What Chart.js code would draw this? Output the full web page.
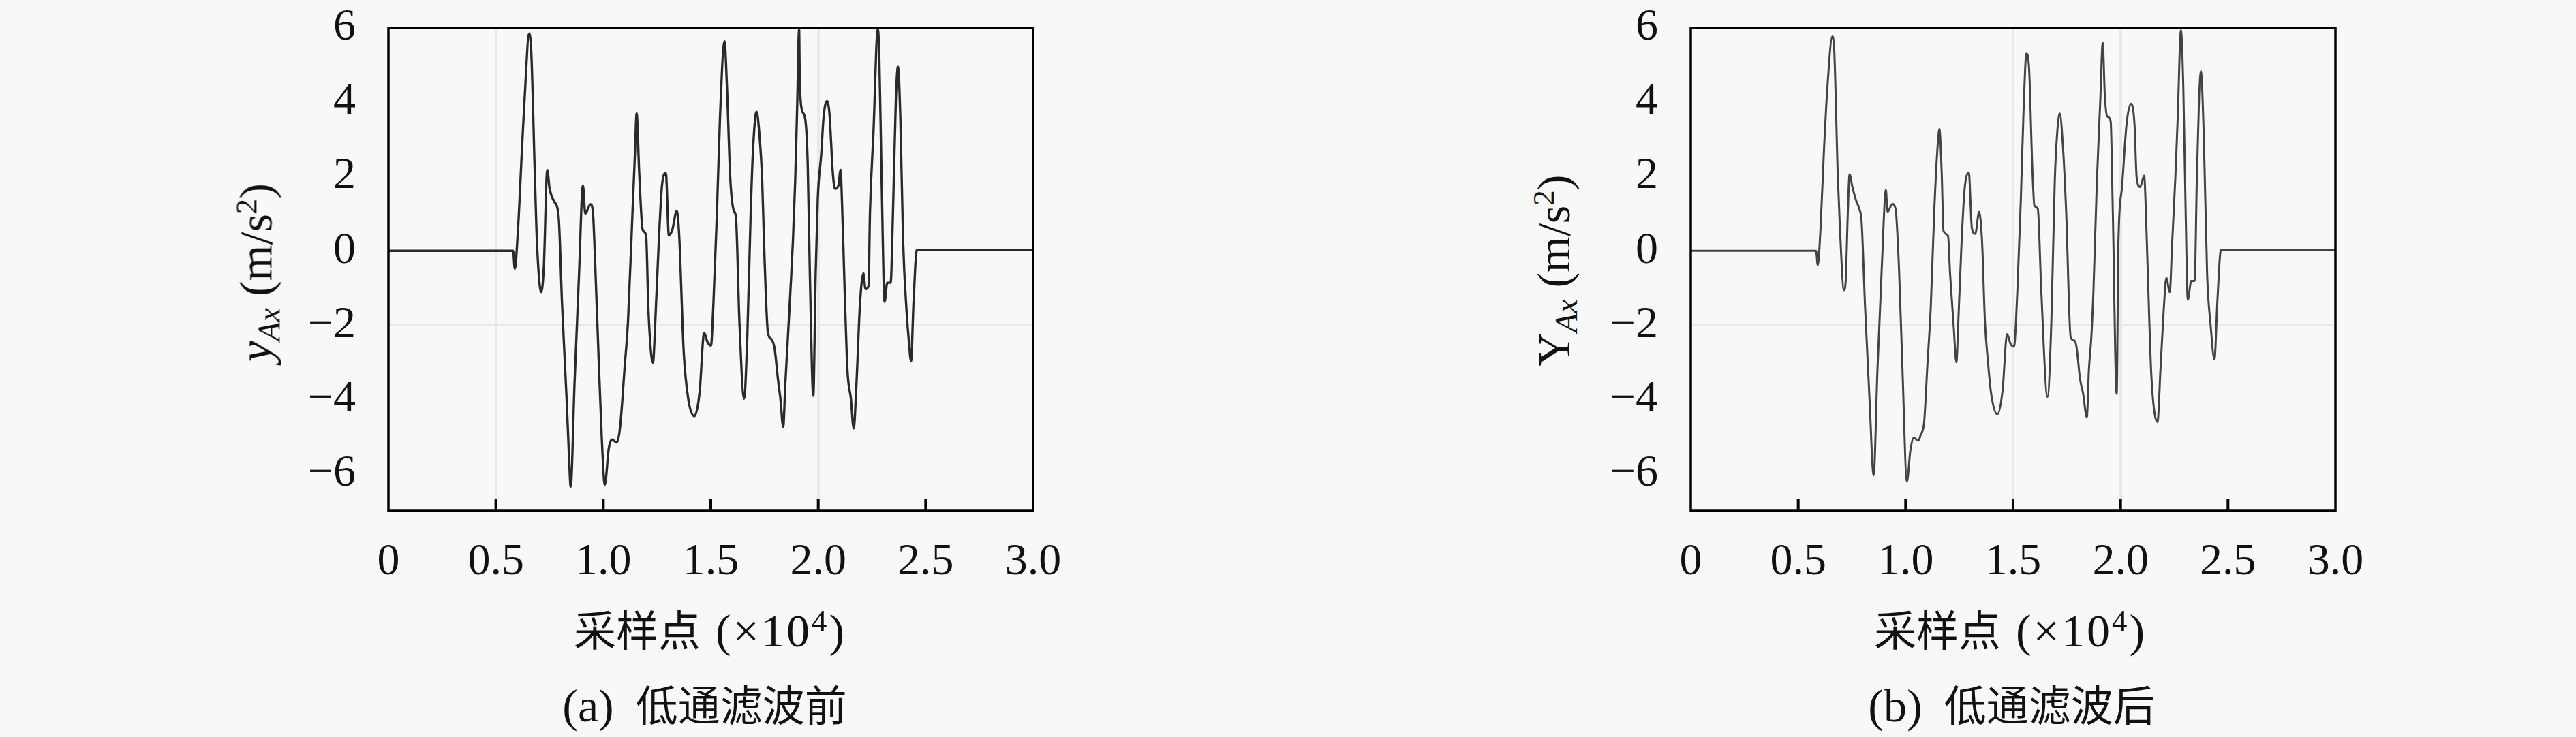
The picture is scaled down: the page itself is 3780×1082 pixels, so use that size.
<!DOCTYPE html>
<html>
<head>
<meta charset="utf-8">
<script src="https://cdn.jsdelivr.net/npm/chart.js@4/dist/chart.umd.min.js"></script>
<style>
html,body{margin:0;padding:0;background:#f8f8f8;}
body{width:3780px;height:1082px;position:relative;overflow:hidden;}
.cv{position:absolute;top:0;}
.t{position:absolute;white-space:nowrap;color:#111;font-family:"Liberation Serif","DejaVu Serif",serif;font-size:68px;line-height:1;transform:translate(-50%,-50%);}
.cjk{font-family:"Noto Sans CJK SC",sans-serif;font-size:62px;}
.cap .cjk{margin-left:32px;}
.xt .lat{letter-spacing:3px;margin-left:22px;}
.yt{transform:translate(-50%,-50%) rotate(-90deg);}
.t sub{font-size:0.68em;vertical-align:-0.25em;}
.t sup{font-size:0.66em;vertical-align:0.5em;}
</style>
</head>
<body>
<div class="cv" style="left:420px;"><canvas id="ca" width="1150" height="900"></canvas></div>
<div class="cv" style="left:2331px;"><canvas id="cb" width="1150" height="900"></canvas></div>

<div class="t yt" style="left:379px;top:400px;"><i>y</i><sub><i>Ax</i></sub> (m/s<sup>2</sup>)</div>
<div class="t xt" style="left:1042px;top:925px;"><span class="cjk">采样点</span><span class="lat">(×10<sup>4</sup>)</span></div>
<div class="t cap" style="left:1034px;top:1035px;">(a)<span class="cjk">低通滤波前</span></div>

<div class="t yt" style="left:2283px;top:397px;">Y<sub><i>Ax</i></sub> (m/s<sup>2</sup>)</div>
<div class="t xt" style="left:2950px;top:925px;"><span class="cjk">采样点</span><span class="lat">(×10<sup>4</sup>)</span></div>
<div class="t cap" style="left:2952px;top:1035px;">(b)<span class="cjk">低通滤波后</span></div>

<script>
// x tick values (×10^4 samples) and labels
const xTickValues = [0, 0.5, 1.0, 1.5, 2.0, 2.5, 3.0];
const xTickLabels = ['0', '0.5', '1.0', '1.5', '2.0', '2.5', '3.0'];
const yTickValues = [-6, -4, -2, 0, 2, 4, 6];
const yTickLabels = ['\u22126', '\u22124', '\u22122', '0', '2', '4', '6'];

// (a) before low-pass filtering
const sampleA = [
  0, 0.580, 0.588, 0.602, 0.623, 0.633, 0.655, 0.665, 0.681, 0.691,
  0.711, 0.723, 0.739, 0.750, 0.771, 0.792, 0.808, 0.829, 0.840, 0.848,
  0.866, 0.887, 0.905, 0.916, 0.940, 0.951, 0.961, 0.977, 0.993, 1.007,
  1.025, 1.041, 1.062, 1.078, 1.099, 1.115, 1.136, 1.147, 1.155, 1.167,
  1.183, 1.199, 1.210, 1.231, 1.242, 1.258, 1.273, 1.291, 1.305, 1.321,
  1.342, 1.353, 1.374, 1.395, 1.424, 1.448, 1.469, 1.485, 1.501, 1.512,
  1.528, 1.543, 1.564, 1.575, 1.591, 1.607, 1.617, 1.633, 1.655, 1.670,
  1.686, 1.697, 1.713, 1.723, 1.739, 1.750, 1.766, 1.782, 1.797, 1.813,
  1.824, 1.837, 1.847, 1.856, 1.871, 1.882, 1.893, 1.903, 1.911, 1.914,
  1.925, 1.940, 1.951, 1.961, 1.977, 1.988, 1.998, 2.014, 2.025, 2.041,
  2.052, 2.068, 2.078, 2.094, 2.104, 2.110, 2.125, 2.136, 2.152, 2.165,
  2.178, 2.194, 2.210, 2.220, 2.234, 2.241, 2.257, 2.277, 2.284, 2.295,
  2.309, 2.321, 2.337, 2.348, 2.361, 2.371, 2.382, 2.395, 2.411, 2.422,
  2.432, 2.443, 2.459, 3.000
];
const accelA = [
  0, 0, -0.48, 0.49, 2.94, 4.03, 5.85, 5.30, 2.09, 0.24,
  -1.11, -0.44, 2.18, 1.67, 1.33, 0.91, -1.45, -3.98, -5.50, -6.35,
  -3.56, -0.61, 1.76, 1.00, 1.25, 1.08, -0.19, -2.72, -5.08, -6.30,
  -5.33, -5.08, -5.16, -4.74, -3.14, -1.87, 1.08, 2.60, 3.70, 2.09,
  0.57, 0.41, -1.62, -3.01, -1.87, 0.24, 1.76, 2.09, 0.41, 0.57,
  1.08, 0.41, -2.72, -3.98, -4.45, -3.81, -2.21, -2.46, -2.55, -1.45,
  0.91, 3.61, 5.64, 4.46, 1.92, 1.08, 0.91, -1.87, -3.98, -2.30,
  1.08, 2.77, 3.74, 3.36, 1.92, -0.19, -2.21, -2.38, -2.63, -3.48,
  -3.98, -4.74, -3.56, -2.63, -1.03, 0.24, 1.92, 4.12, 5.97, 4.62,
  3.78, 3.53, 2.35, -0.61, -3.90, -0.61, 1.42, 2.60, 3.61, 4.03,
  3.70, 2.09, 1.67, 1.76, 2.18, 1.42, -1.45, -3.22, -3.98, -4.78,
  -3.56, -1.45, -0.61, -1.03, -0.95, 1.08, 3.19, 5.97, 5.30, 1.92,
  -1.37, -0.86, -0.86, 1.08, 4.03, 4.96, 3.61, 0.24, -1.62, -2.46,
  -2.97, -1.45, 0.03, 0.03
];

// (b) after low-pass filtering
const sampleB = [
  0, 0.583, 0.591, 0.604, 0.620, 0.636, 0.659, 0.668, 0.684, 0.694,
  0.713, 0.721, 0.731, 0.739, 0.752, 0.768, 0.784, 0.795, 0.811, 0.832,
  0.851, 0.869, 0.890, 0.908, 0.916, 0.938, 0.953, 0.969, 0.985, 1.006,
  1.022, 1.038, 1.059, 1.070, 1.086, 1.101, 1.117, 1.133, 1.146, 1.157,
  1.168, 1.176, 1.197, 1.207, 1.223, 1.236, 1.245, 1.260, 1.274, 1.294,
  1.308, 1.324, 1.342, 1.356, 1.369, 1.382, 1.398, 1.427, 1.451, 1.472,
  1.488, 1.504, 1.520, 1.536, 1.549, 1.562, 1.575, 1.589, 1.599, 1.615,
  1.631, 1.660, 1.678, 1.694, 1.705, 1.717, 1.731, 1.747, 1.768, 1.784,
  1.795, 1.811, 1.826, 1.843, 1.853, 1.864, 1.874, 1.890, 1.906, 1.917,
  1.927, 1.938, 1.954, 1.964, 1.982, 1.990, 2.007, 2.028, 2.049, 2.065,
  2.075, 2.091, 2.110, 2.118, 2.134, 2.144, 2.172, 2.186, 2.202, 2.213,
  2.229, 2.240, 2.255, 2.266, 2.281, 2.292, 2.303, 2.313, 2.329, 2.345,
  2.355, 2.374, 2.387, 2.403, 2.419, 2.437, 2.451, 2.467, 3.000
];
const accelB = [
  0, 0, -0.39, 0.62, 2.73, 4.42, 5.77, 5.35, 2.06, 0.62,
  -1.06, -0.81, 1.05, 2.06, 1.72, 1.38, 1.13, 0.79, -1.49, -4.02,
  -6.04, -3.17, -0.30, 1.64, 1.05, 1.26, 1.13, -0.47, -3.17, -6.21,
  -5.37, -5.03, -5.11, -4.95, -4.61, -3.09, -1.49, 1.05, 2.57, 3.28,
  2.06, 0.54, 0.41, -0.64, -1.99, -3.00, -1.91, 0.20, 1.64, 2.10,
  0.62, 0.46, 1.05, 0.20, -1.91, -2.92, -3.85, -4.40, -3.76, -2.24,
  -2.50, -2.58, -1.06, 1.38, 3.83, 5.31, 4.84, 2.31, 1.22, 1.13,
  -1.06, -3.93, -1.91, 1.89, 3.16, 3.70, 2.90, 1.05, -2.33, -2.41,
  -2.58, -3.43, -3.85, -4.48, -3.17, -2.33, -1.06, 1.89, 4.08, 5.60,
  4.17, 3.62, 3.49, 1.05, -3.85, 0.20, 1.72, 3.41, 3.96, 3.41,
  1.97, 1.72, 2.02, 1.05, -1.91, -3.43, -4.61, -3.17, -1.49, -0.73,
  -1.11, 0.20, 1.97, 3.58, 5.94, 4.42, 1.05, -1.32, -0.81, -0.81,
  1.89, 4.84, 3.16, -0.64, -1.99, -2.92, -1.32, 0.02, 0.02
];

// faint grid lines that survive in each panel
const gridXA = [0.5, 2.0];
const gridXB = [1.5, 2.0];
const gridY = [-2];

const frameTicks = {
  id: 'frameTicks',
  afterDatasetsDraw(chart) {
    const ctx = chart.ctx, a = chart.chartArea, x = chart.scales.x;
    ctx.save();
    ctx.strokeStyle = '#000';
    ctx.lineWidth = 4;
    ctx.beginPath();
    xTickValues.slice(1, -1).forEach(v => {
      const px = x.getPixelForValue(v);
      ctx.moveTo(px, a.bottom);
      ctx.lineTo(px, a.bottom - 17);
    });
    ctx.stroke();
    ctx.lineWidth = 3.5;
    ctx.strokeRect(a.left, a.top, a.right - a.left, a.bottom - a.top);
    ctx.restore();
  }
};

function makeChart(id, xs, ys, gridX, color, width) {
  const pts = xs.map((v, i) => ({ x: v, y: ys[i] }));
  return new Chart(document.getElementById(id), {
    type: 'line',
    data: { datasets: [{ data: pts, borderColor: color, borderWidth: width, pointRadius: 0,
      cubicInterpolationMode: 'monotone', fill: false }] },
    options: {
      responsive: false,
      animation: false,
      devicePixelRatio: 1,
      layout: { padding: { top: 41, right: 54, left: 0, bottom: 0 } },
      plugins: { legend: { display: false }, tooltip: { enabled: false } },
      scales: {
        x: {
          type: 'linear', min: 0, max: 3,
          afterBuildTicks: s => { s.ticks = xTickValues.map(v => ({ value: v })); },
          afterFit: s => { s.height = 150; s.paddingLeft = 0; s.paddingRight = 0; },
          ticks: {
            autoSkip: false, maxRotation: 0, padding: 36, color: '#111',
            font: { family: 'Liberation Serif', size: 66 },
            callback: (v, i) => xTickLabels[i]
          },
          grid: {
            drawTicks: false, lineWidth: 4,
            color: c => (c.tick && gridX.includes(c.tick.value)) ? '#e9e9e9' : 'rgba(0,0,0,0)'
          },
          border: { display: false }
        },
        y: {
          type: 'linear', min: -7, max: 6,
          afterBuildTicks: s => { s.ticks = yTickValues.map(v => ({ value: v })); },
          afterFit: s => { s.width = 150; s.paddingTop = 0; s.paddingBottom = 0; },
          ticks: {
            autoSkip: false, padding: 48, color: '#111',
            font: { family: 'Liberation Serif', size: 66 },
            callback: (v, i) => yTickLabels[i]
          },
          grid: {
            drawTicks: false, lineWidth: 4,
            color: c => (c.tick && gridY.includes(c.tick.value)) ? '#e9e9e9' : 'rgba(0,0,0,0)'
          },
          border: { display: false }
        }
      }
    },
    plugins: [frameTicks]
  });
}

makeChart('ca', sampleA, accelA, gridXA, '#2a2a2a', 3.4);
makeChart('cb', sampleB, accelB, gridXB, '#444444', 3);
</script>
</body>
</html>
